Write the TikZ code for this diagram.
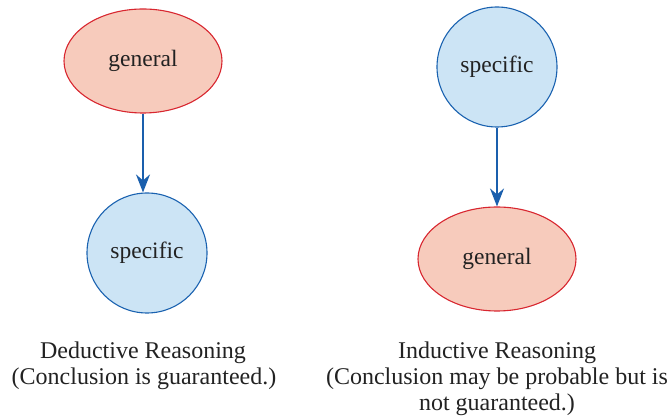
\documentclass[tikz,border=0pt]{standalone}
\usepackage{fontspec}
\setmainfont{Liberation Serif}
\usetikzlibrary{shapes.geometric,arrows.meta}
\definecolor{genfill}{HTML}{F7CBBC}
\definecolor{genline}{HTML}{D8262F}
\definecolor{specfill}{HTML}{CCE4F5}
\definecolor{specline}{HTML}{1A62B0}
\definecolor{arrowcol}{HTML}{1A5FAD}
\definecolor{txt}{HTML}{222222}
\tikzset{
  genbox/.style={ellipse, draw=genline, fill=genfill, line width=1.1pt,
    minimum width=158pt, minimum height=104pt, inner sep=0pt,
    font=\fontsize{23.5}{26}\selectfont, text=txt},
  specbox/.style={circle, draw=specline, fill=specfill, line width=1.1pt,
    minimum size=120pt, inner sep=0pt,
    font=\fontsize{23.5}{26}\selectfont, text=txt},
  flow/.style={draw=arrowcol, line width=2pt,
    -{Stealth[length=18pt, width=14pt, inset=6pt]}},
  caption/.style={anchor=base, inner sep=0pt, text=txt,
    font=\fontsize{24}{26}\selectfont}
}
\begin{document}
\begin{tikzpicture}[x=1pt,y=-1pt]
\useasboundingbox (0,0) rectangle (670,419);
% left: deductive
\node[genbox] (g1) at (143,61) {general};
\node[specbox] (s1) at (147,253) {specific};
\draw[flow] (g1.south) -- (g1.south |- s1.north);
% right: inductive
\node[specbox] (s2) at (497,67) {specific};
\node[genbox] (g2) at (497,259) {general};
\draw[flow] (s2.south) -- (g2.north);
% captions
\node[caption] (d1) at (143,359) {Deductive Reasoning};
\node[caption] (d2) at (144,385) {(Conclusion is guaranteed.)};
\node[caption] (i1) at (497,359) {Inductive Reasoning};
\node[caption] (i2) at (497,385) {(Conclusion may be probable but is};
\node[caption] (i3) at (497,411) {not guaranteed.)};
\end{tikzpicture}
\end{document}
